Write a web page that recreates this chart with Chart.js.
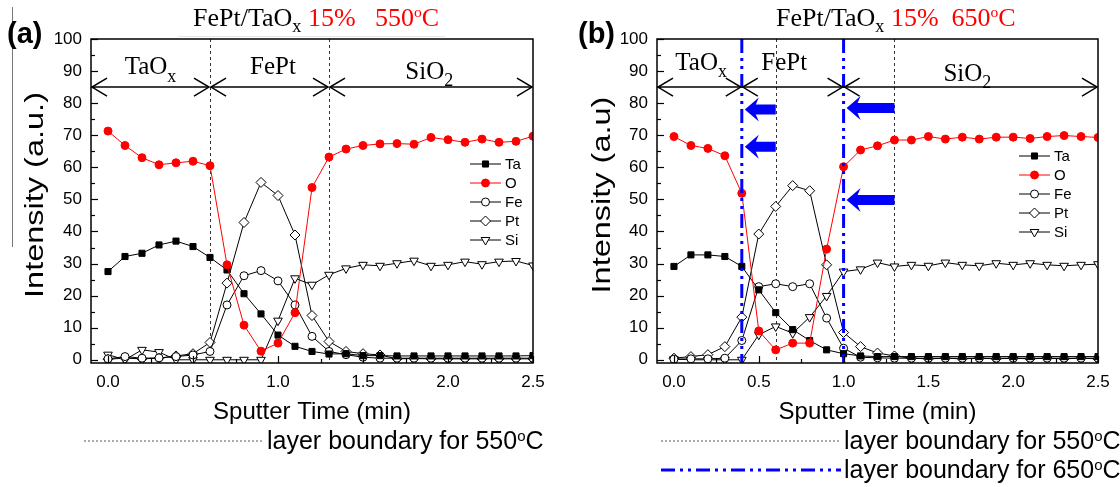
<!DOCTYPE html>
<html>
<head>
<meta charset="utf-8">
<script src="https://cdn.jsdelivr.net/npm/chart.js@4.4.1/dist/chart.umd.min.js"></script>
<style>
  body { margin: 0; background: #fff; width: 1120px; height: 487px; position: relative; overflow: hidden; font-family: "Liberation Sans", Arial, sans-serif; }
  canvas { position: absolute; top: 0; }
  .tag { position: absolute; font-weight: bold; font-size: 29px; }
  .title { position: absolute; font-family: "Liberation Serif", "Times New Roman", serif; font-size: 26px; white-space: nowrap; }
  .title sub { font-size: 70%; vertical-align: -6px; line-height: 0; }
  .title sup { font-size: 60%; vertical-align: 9px; line-height: 0; }
  .red { color: #ff0000; }
  .key { position: absolute; font-size: 25px; white-space: nowrap; display: flex; align-items: center; }
  .key sup { font-size: 60%; vertical-align: 8px; line-height: 0; }
  .key svg { margin-right: 3px; }
  .ylab { position: absolute; font-size: 26px; white-space: nowrap; line-height: 1; transform: translate(-50%, -50%) rotate(-90deg) scaleX(1.25); }
</style>
</head>
<body>
<div style="position:absolute;left:12px;top:7px;width:1px;height:240px;background:#777"></div>
<div style="position:absolute;left:178px;top:36px;width:267px;height:1px;background:#e8e8e8"></div>

<canvas id="chartA" width="560" height="430" style="left:0"></canvas>
<canvas id="chartB" width="560" height="430" style="left:560px"></canvas>

<div class="tag" style="left:7px;top:17px">(a)</div>
<div class="tag" style="left:578px;top:17px">(b)</div>
<div class="title" style="left:193px;top:3px">FePt/TaO<sub>x</sub> <span class="red">15% &nbsp; 550<sup>o</sup>C</span></div>
<div class="title" style="left:776px;top:3px">FePt/TaO<sub>x</sub> <span class="red">15%&nbsp; 650<sup>o</sup>C</span></div>
<div class="ylab" style="left:34px;top:195px">Intensity (a.u.)</div>
<div class="ylab" style="left:601px;top:195px">Intensity (a.u)</div>

<div class="key" style="left:84px;top:426px">
  <svg width="180" height="4"><line x1="0" y1="2" x2="180" y2="2" stroke="#555" stroke-width="1" stroke-dasharray="2,2"/></svg><span>layer boundary for 550<sup>o</sup>C</span>
</div>
<div class="key" style="left:661px;top:426px">
  <svg width="180" height="4"><line x1="0" y1="2" x2="180" y2="2" stroke="#555" stroke-width="1" stroke-dasharray="2,2"/></svg><span>layer boundary for 550<sup>o</sup>C</span>
</div>
<div class="key" style="left:661px;top:455px">
  <svg width="180" height="6"><line x1="0" y1="3" x2="180" y2="3" stroke="#0000ff" stroke-width="3" stroke-dasharray="14,5,3,5,3,5"/></svg><span>layer boundary for 650<sup>o</sup>C</span>
</div>

<script>
// sputter time (min), one reading every 0.1 min
const times = [0.0, 0.1, 0.2, 0.3, 0.4, 0.5, 0.6, 0.7, 0.8, 0.9, 1.0, 1.1, 1.2,
  1.3, 1.4, 1.5, 1.6, 1.7, 1.8, 1.9, 2.0, 2.1, 2.2, 2.3, 2.4, 2.5];
const xTicks = [0.0, 0.5, 1.0, 1.5, 2.0, 2.5];
const yTicks = [0, 10, 20, 30, 40, 50, 60, 70, 80, 90, 100];
const elements = ["Ta", "O", "Fe", "Pt", "Si"];

// (a) 550 C
const taA = [27.5, 32.2, 33.2, 35.8, 37.0, 35.3, 31.9, 28.0, 20.6, 14.3, 7.7, 4.2, 2.6,
  1.8, 1.9, 1.3, 1.3, 1.2, 1.2, 1.2, 1.2, 1.2, 1.2, 1.2, 1.2, 1.3];
const oA = [71.3, 66.8, 63.0, 60.8, 61.4, 61.9, 60.5, 29.6, 10.8, 2.7, 5.2, 14.7, 53.7,
  63.2, 65.7, 66.8, 67.3, 67.4, 67.2, 69.3, 68.6, 67.8, 68.8, 67.8, 68.1, 69.7];
const feA = [0.3, 1.0, 0.5, 0.6, 1.0, 1.5, 2.6, 17.1, 26.2, 27.8, 24.6, 17.1, 7.3,
  2.6, 1.6, 0.8, 0.5, 0.5, 0.5, 0.5, 0.5, 0.5, 0.5, 0.5, 0.5, 0.5];
const ptA = [0.2, 0.5, 0.3, 0.5, 1.2, 1.9, 5.4, 23.9, 42.8, 55.3, 51.2, 38.9, 13.8,
  5.7, 2.6, 1.9, 1.5, 0.3, 0.4, 0.3, 0.3, 0.3, 0.3, 0.3, 0.3, 0.3];
const siA = [1.6, 0.0, 3.1, 2.4, 0.0, 0.0, 0.0, 0.0, 0.0, 0.0, 12.2, 25.4, 23.4,
  26.5, 28.5, 29.6, 29.3, 30.1, 30.9, 29.3, 29.6, 30.6, 29.8, 30.6, 30.8, 29.4];

// (b) 650 C
const taB = [29.1, 32.7, 32.7, 32.2, 29.1, 21.8, 14.7, 9.4, 6.0, 3.1, 1.9, 1.2, 1.0,
  1.0, 1.0, 1.0, 1.0, 1.0, 1.0, 1.0, 1.0, 1.0, 1.0, 1.0, 1.0, 1.0];
const oB = [69.6, 66.8, 65.9, 63.6, 51.9, 9.0, 3.1, 5.2, 5.2, 34.5, 60.2, 65.4, 66.7,
  68.5, 68.5, 69.6, 68.8, 69.4, 68.8, 69.4, 69.4, 69.0, 69.6, 69.9, 69.6, 69.3];
const feB = [0.2, 0.3, 0.3, 0.5, 6.0, 22.8, 23.7, 22.8, 23.7, 13.0, 3.6, 0.8, 0.6,
  0.5, 0.5, 0.5, 0.5, 0.5, 0.5, 0.5, 0.5, 0.5, 0.5, 0.5, 0.5, 0.5];
const ptB = [0.5, 1.0, 1.6, 4.1, 13.3, 39.2, 47.8, 54.3, 52.7, 29.6, 8.5, 4.1, 2.1,
  1.2, 0.5, 0.3, 0.5, 0.3, 0.5, 0.3, 0.5, 0.3, 0.5, 0.3, 0.5, 0.3];
const siB = [0.2, 0.0, 0.0, 0.0, 0.0, 7.8, 10.4, 8.3, 13.3, 19.9, 27.5, 28.2, 30.3,
  29.1, 29.6, 29.3, 30.3, 29.6, 29.3, 30.1, 29.6, 30.1, 29.6, 29.3, 29.6, 29.8];

// layer boundaries (min) and labelled layers
const boundary550 = [0.6, 1.3];
const boundary650 = [0.4, 1.0];
const layersA = [["TaO", "x", 0.25, 91], ["FePt", "", 0.97, 91], ["SiO", "2", 1.89, 89.5]];
const layersB = [["TaO", "x", 0.16, 92.5], ["FePt", "", 0.65, 92.5], ["SiO", "2", 1.73, 89]];
const arrowLevel = 85;
// blue shift arrows for (b): [from, to, level]
const shiftArrows = [[0.6, 0.4, 78], [0.6, 0.4, 66.4], [1.3, 1.0, 78.5], [1.3, 1.0, 49.8]];

const styles = {
  Ta: { pointStyle: "rect", pointRadius: 4.3, pointBackgroundColor: "#000", color: "#000", order: 1 },
  O: { pointStyle: "circle", pointRadius: 4, pointBackgroundColor: "#ff0000", color: "#ff0000", order: 0 },
  Fe: { pointStyle: "circle", pointRadius: 4, pointBackgroundColor: "#fff", color: "#000", order: 2 },
  Pt: { pointStyle: "rectRot", pointRadius: 5, pointBackgroundColor: "#fff", color: "#000", order: 3 },
  Si: { pointStyle: "triangle", pointRadius: 5, pointRotation: 180, pointBackgroundColor: "#fff", color: "#000", order: 4 },
};

function line(ctx, x1, y1, x2, y2) {
  ctx.beginPath();
  ctx.moveTo(x1, y1);
  ctx.lineTo(x2, y2);
  ctx.stroke();
}

const decor = {
  id: "decor",
  beforeDatasetsDraw(chart, args, o) {
    const { ctx, chartArea: a, scales: { x } } = chart;
    ctx.save();
    ctx.strokeStyle = "#333";
    ctx.lineWidth = 1;
    ctx.setLineDash([3, 3]);
    o.dashed.forEach((v) => {
      const px = Math.round(x.getPixelForValue(v)) + 0.5;
      line(ctx, px, a.top, px, a.bottom);
    });
    ctx.restore();
  },
  afterDatasetsDraw(chart, args, o) {
    const { ctx, chartArea: a, scales: { x, y } } = chart;
    ctx.save();

    // blue dash-dot-dot boundaries and block arrows
    if (o.blue) {
      ctx.strokeStyle = "#0000ff";
      ctx.lineWidth = 3;
      ctx.setLineDash([14, 5, 3, 5, 3, 5]);
      o.blue.forEach((v) => {
        const px = x.getPixelForValue(v);
        line(ctx, px, a.top, px, a.bottom);
      });
      ctx.setLineDash([]);
      ctx.fillStyle = "#0000ff";
      o.shifts.forEach(([from, to, lv]) => {
        const xt = x.getPixelForValue(to) + 3, xe = x.getPixelForValue(from), yc = y.getPixelForValue(lv);
        const hl = 14;
        ctx.beginPath();
        ctx.moveTo(xt, yc);
        ctx.lineTo(xt + hl, yc - 12);
        ctx.lineTo(xt + hl - 3, yc - 5);
        ctx.lineTo(xe, yc - 5);
        ctx.lineTo(xe, yc + 5);
        ctx.lineTo(xt + hl - 3, yc + 5);
        ctx.lineTo(xt + hl, yc + 12);
        ctx.closePath();
        ctx.fill();
      });
    }

    // double-headed layer arrows
    ctx.strokeStyle = "#000";
    ctx.lineWidth = 1.5;
    const ya = y.getPixelForValue(arrowLevel);
    const edges = [x.min].concat(o.arrowAt, [x.max]);
    for (let i = 0; i < edges.length - 1; i++) {
      const x1 = x.getPixelForValue(edges[i]) + 1, x2 = x.getPixelForValue(edges[i + 1]) - 1;
      line(ctx, x1, ya, x2, ya);
      ctx.beginPath();
      ctx.moveTo(x1 + 15, ya - 9); ctx.lineTo(x1, ya); ctx.lineTo(x1 + 15, ya + 9);
      ctx.moveTo(x2 - 15, ya - 9); ctx.lineTo(x2, ya); ctx.lineTo(x2 - 15, ya + 9);
      ctx.stroke();
    }

    // layer names
    ctx.fillStyle = "#000";
    ctx.textBaseline = "middle";
    o.layers.forEach(([name, sub, t, lv]) => {
      ctx.font = '25px "Liberation Serif"';
      const w1 = ctx.measureText(name).width;
      ctx.font = '18px "Liberation Serif"';
      const w2 = sub ? ctx.measureText(sub).width : 0;
      const x0 = x.getPixelForValue(t) - (w1 + w2) / 2, yc = y.getPixelForValue(lv);
      ctx.font = '25px "Liberation Serif"';
      ctx.textAlign = "left";
      ctx.fillText(name, x0, yc);
      if (sub) {
        ctx.font = '18px "Liberation Serif"';
        ctx.fillText(sub, x0 + w1, yc + 9);
      }
    });

    // legend
    ctx.font = '15px "Liberation Sans"';
    ctx.textAlign = "left";
    chart.data.datasets.forEach((ds, i) => {
      const lx = a.right - o.legend[0], ly = a.top + o.legend[1] + i * 19;
      ctx.strokeStyle = ds.borderColor;
      ctx.lineWidth = 1;
      line(ctx, lx, ly, lx + 31, ly);
      ctx.fillStyle = ds.pointBackgroundColor;
      Chart.helpers.drawPoint(ctx, {
        pointStyle: ds.pointStyle, radius: ds.pointRadius, rotation: ds.pointRotation || 0, borderWidth: 1,
      }, lx + 15.5, ly);
      ctx.fillStyle = "#000";
      ctx.fillText(ds.label, lx + 35, ly + 1);
    });

    // frame and inward ticks
    ctx.strokeStyle = "#000";
    ctx.lineWidth = 1.5;
    ctx.strokeRect(a.left, a.top, a.right - a.left, a.bottom - a.top);
    ctx.lineWidth = 1.2;
    for (let v = 0; v <= 100; v += 5) {
      const py = Math.round(y.getPixelForValue(v)) + 0.5;
      line(ctx, a.left, py, a.left + (v % 10 === 0 ? 7 : 4), py);
    }
    for (let v = 0; v <= 2.5001; v += 0.25) {
      const px = Math.round(x.getPixelForValue(v)) + 0.5;
      const major = Math.abs(v * 2 - Math.round(v * 2)) < 1e-6;
      line(ctx, px, a.bottom, px, a.bottom - (major ? 7 : 4));
    }
    ctx.restore();
  },
};

function makeChart(id, series, opts) {
  const datasets = elements.map((name, i) => {
    const s = styles[name];
    return {
      label: name,
      data: times.map((t, k) => ({ x: t, y: series[i][k] })),
      borderColor: s.color,
      borderWidth: 1,
      pointStyle: s.pointStyle,
      pointRadius: s.pointRadius,
      pointRotation: s.pointRotation || 0,
      pointBackgroundColor: s.pointBackgroundColor,
      pointBorderColor: s.color,
      pointBorderWidth: 1,
      order: s.order,
    };
  });
  return new Chart(document.getElementById(id), {
    type: "line",
    data: { datasets },
    plugins: [decor],
    options: {
      responsive: false,
      animation: false,
      devicePixelRatio: 1,
      layout: { padding: { top: 39, right: opts.right, bottom: 0, left: 0 } },
      plugins: {
        legend: { display: false },
        tooltip: { enabled: false },
        decor: opts.decor,
      },
      scales: {
        x: {
          type: "linear",
          min: -0.1,
          max: 2.5,
          grid: { display: false, drawTicks: false },
          border: { display: false },
          afterBuildTicks: (s) => { s.ticks = xTicks.map((v) => ({ value: v })); },
          afterFit: (s) => { s.height = 67; },
          ticks: {
            padding: 9,
            color: "#000",
            font: { family: "Liberation Sans", size: 17 },
            callback: (v) => Number(v).toFixed(1),
          },
          title: {
            display: true,
            text: "Sputter Time (min)",
            color: "#000",
            font: { family: "Liberation Sans", size: 24 },
            padding: { top: 0, bottom: 3 },
          },
        },
        y: {
          min: -1,
          max: 100,
          grid: { display: false, drawTicks: false },
          border: { display: false },
          afterBuildTicks: (s) => { s.ticks = yTicks.map((v) => ({ value: v })); },
          afterFit: (s) => { s.width = opts.yWidth; },
          ticks: {
            padding: 9,
            color: "#000",
            font: { family: "Liberation Sans", size: 17 },
          },
          title: { display: false },
        },
      },
    },
  });
}

makeChart("chartA", [taA, oA, feA, ptA, siA], {
  right: 27, yWidth: 91,
  decor: { dashed: boundary550, arrowAt: boundary550, layers: layersA, legend: [63, 125] },
});
makeChart("chartB", [taB, oB, feB, ptB, siB], {
  right: 22, yWidth: 97,
  decor: {
    dashed: boundary550, arrowAt: boundary650, layers: layersB, legend: [79, 117],
    blue: boundary650, shifts: shiftArrows,
  },
});
</script>
</body>
</html>
